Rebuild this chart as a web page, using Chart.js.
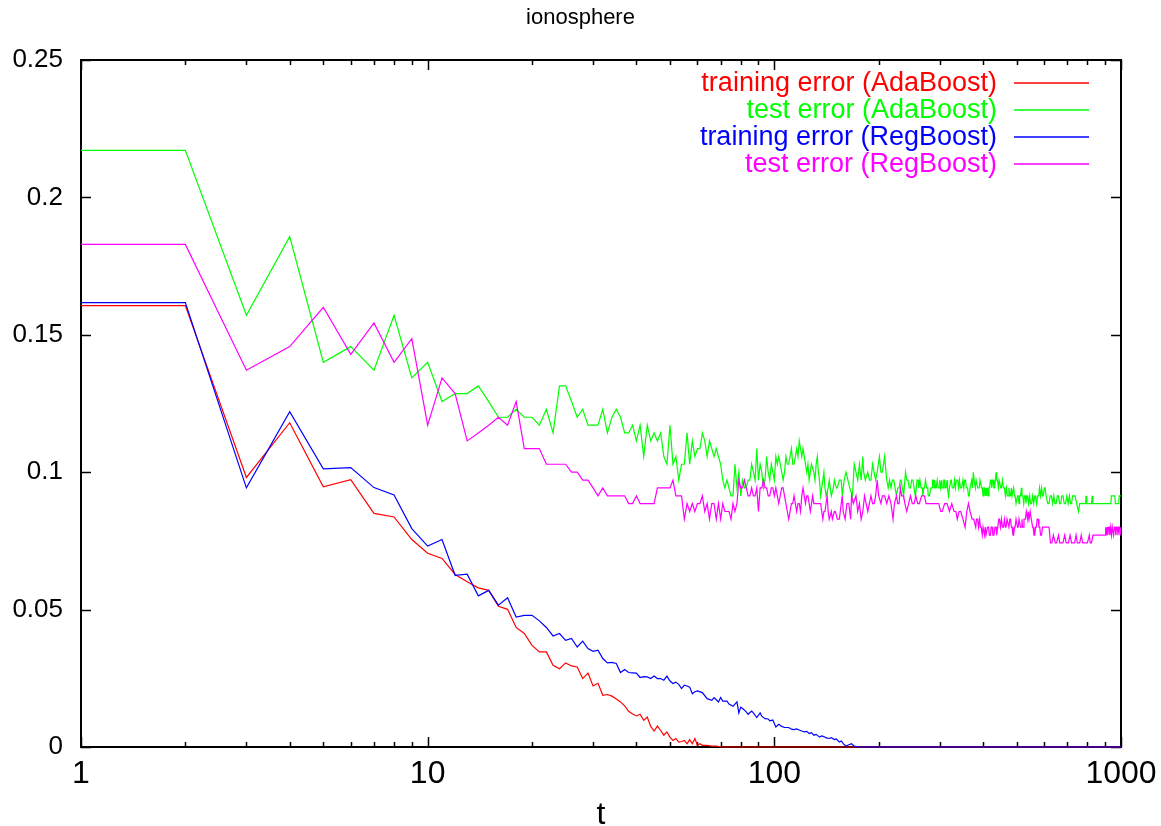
<!DOCTYPE html>
<html>
<head>
<meta charset="utf-8">
<title>ionosphere</title>
<script src="https://cdn.jsdelivr.net/npm/chart.js@4.4.1/dist/chart.umd.min.js"></script>
<style>
    html, body { margin: 0; padding: 0; background: #fff; }
    #chart { display: block; }
</style>
</head>
<body>
<canvas id="chart" width="1161" height="826"></canvas>
<script>
// boosting rounds t vs error
const trainAda = [
    [1,0.1606],[2,0.1606],[3,0.0981],[4,0.118],[5,0.0947],[6,0.0973],[7,0.085],[8,0.0837],[9,0.0755],[10,0.0705],
    [11,0.0686],[12,0.0628],[13,0.0601],[14,0.0579],[15,0.057],[16,0.0512],[17,0.0501],[18,0.0435],[19,0.0413],[20,0.037],
    [21,0.0346],[22,0.0346],[23,0.0297],[24,0.0285],[25,0.0306],[26,0.0295],[27,0.0291],[28,0.0249],[29,0.0269],[30,0.0222],
    [31,0.0232],[32,0.0188],[33,0.0191],[34,0.0185],[35,0.0175],[36,0.0164],[37,0.015],[38,0.013],[39,0.012],[40,0.0113],
    [41,0.0119],[42,0.0097],[43,0.0109],[44,0.0075],[45,0.0058],[46,0.0076],[47,0.006],[48,0.0043],[49,0.0055],[50,0.0036],
    [51,0.0024],[52,0.0031],[53,0.0018],[54,0.002],[55,0.0024],[56,0.0012],[57,0.0027],[58,0.0012],[59,0.0031],[60,0.0006],
    [61,0.0012],[62,0.0006],[64,0.0006],[66,0.0003],[68,0.0003],[71,0],[1000,0]
];

const testAda = [
    [1,0.2171],[2,0.2171],[3,0.1571],[4,0.1857],[5,0.14],[6,0.1457],[7,0.1371],[8,0.1571],[9,0.1343],[10,0.14],
    [11,0.1257],[12,0.1286],[13,0.1286],[14,0.1314],[15,0.1257],[16,0.12],[17,0.12],[18,0.1229],[19,0.12],[20,0.12],
    [21,0.1171],[22,0.1229],[23,0.1143],[24,0.1314],[25,0.1314],[26,0.1257],[27,0.12],[28,0.1229],[29,0.1171],[30,0.1171],
    [31,0.1171],[32,0.1229],[33,0.1143],[34,0.12],[35,0.1229],[36,0.12],[37,0.1143],[38,0.1143],[39,0.1171],[40,0.1114],
    [41,0.1171],[42,0.1057],[43,0.1171],[44,0.1114],[45,0.1143],[46,0.1114],[47,0.1143],[48,0.1057],[49,0.1029],[50,0.1171],
    [51,0.1029],[52,0.1057],[53,0.0971],[54,0.1029],[55,0.1029],[56,0.1143],[57,0.1029],[58,0.1114],[59,0.1057],[60,0.1086],
    [61,0.1086],[62,0.1143],[63,0.1114],[64,0.1057],[65,0.1114],[66,0.1086],[67,0.1057],[68,0.1086],[69,0.1057],[70,0.1029],
    [71,0.0971],[72,0.0943],[73,0.0971],[74,0.0943],[75,0.0914],[76,0.0914],[77,0.1029],[78,0.0943],[79,0.1],[80,0.0914],
    [81,0.0971],[82,0.0943],[83,0.0943],[84,0.0971],[85,0.0971],[86,0.1029],[87,0.1],[88,0.0971],[89,0.1086],[90,0.0971],
    [91,0.1029],[92,0.1],[93,0.0943],[94,0.0971],[95,0.1057],[96,0.1],[97,0.0971],[98,0.1029],[99,0.1],[100,0.0971],
    [101,0.1057],[102,0.1029],[103,0.1057],[104,0.1029],[105,0.1],[106,0.0971],[107,0.1],[108,0.1057],[109,0.1029],[110,0.1029],
    [111,0.1057],[112,0.1086],[113,0.1029],[114,0.1029],[115,0.1057],[116,0.1086],[117,0.1057],[118,0.1114],[119,0.1086],[120,0.1057],
    [121,0.1086],[122,0.1057],[123,0.1029],[124,0.1],[125,0.1029],[126,0.0971],[127,0.1],[128,0.1029],[130,0.1],[131,0.0971],
    [132,0.1029],[133,0.1057],[134,0.1],[135,0.0971],[136,0.0914],[138,0.0971],[139,0.1],[140,0.0943],[141,0.0914],[143,0.0943],
    [144,0.0971],[146,0.0914],[148,0.0943],[149,0.0971],[151,0.0943],[152,0.0943],[154,0.0971],[156,0.0971],[157,0.0914],[159,0.0971],
    [161,0.1],[163,0.0971],[165,0.0943],[168,0.0914],[170,0.1029],[172,0.1],[174,0.0971],[176,0.1029],[178,0.0971],[180,0.1057],
    [181,0.1],[183,0.0971],[186,0.1],[188,0.0971],[190,0.0971],[192,0.1029],[194,0.1],[196,0.0971],[198,0.1],[201,0.1057],
    [203,0.1],[205,0.1],[208,0.1057],[211,0.0971],[213,0.0943],[215,0.0971],[217,0.0943],[219,0.0971],[221,0.0971],[223,0.0943],
    [225,0.0914],[227,0.0943],[229,0.0943],[231,0.0971],[232,0.0971],[234,0.0943],[236,0.0914],[237,0.0943],[239,0.1],[241,0.0971],
    [243,0.0971],[245,0.0943],[247,0.0943],[249,0.0971],[251,0.0971],[253,0.0943],[255,0.0914],[257,0.0943],[258,0.0971],[260,0.0971],
    [261,0.0943],[263,0.0971],[265,0.0943],[267,0.0943],[268,0.0914],[270,0.0943],[271,0.0943],[273,0.0971],[275,0.0943],[277,0.0943],
    [278,0.0914],[280,0.0914],[283,0.0943],[285,0.0943],[286,0.0971],[288,0.0971],[289,0.0943],[290,0.0971],[292,0.0943],[293,0.0943],
    [295,0.0971],[297,0.0943],[299,0.0943],[300,0.0971],[302,0.0943],[304,0.0971],[305,0.0943],[307,0.0943],[308,0.0971],[310,0.0971],
    [311,0.0943],[313,0.0943],[315,0.0971],[316,0.0943],[318,0.0914],[320,0.0943],[321,0.0943],[323,0.0971],[324,0.0971],[326,0.0943],
    [329,0.0943],[331,0.0971],[333,0.0943],[335,0.0971],[338,0.0971],[340,0.0943],[342,0.0971],[344,0.0943],[347,0.0943],[350,0.0971],
    [352,0.0943],[354,0.0971],[356,0.0971],[358,0.0943],[361,0.0943],[363,0.0914],[365,0.0914],[367,0.0943],[369,0.0943],[371,0.0971],
    [373,0.0943],[375,0.1],[377,0.0971],[380,0.0943],[382,0.0971],[384,0.0971],[386,0.0943],[390,0.0943],[392,0.0971],[394,0.0971],
    [396,0.0943],[398,0.0943],[400,0.0914],[402,0.0943],[404,0.0943],[406,0.0914],[408,0.0943],[410,0.0914],[412,0.0943],[414,0.0914],
    [416,0.0943],[418,0.0943],[420,0.0971],[422,0.0971],[424,0.0943],[426,0.0971],[428,0.0971],[430,0.0943],[432,0.0943],[434,0.0971],
    [436,0.1],[438,0.0971],[440,0.0971],[443,0.0943],[445,0.0971],[447,0.0971],[450,0.0943],[452,0.0943],[455,0.0971],[458,0.0943],
    [461,0.0943],[464,0.0914],[467,0.0943],[470,0.0914],[473,0.0914],[475,0.0943],[478,0.0914],[480,0.0914],[483,0.0943],[485,0.0914],
    [488,0.0914],[490,0.0943],[493,0.0914],[495,0.0914],[498,0.0886],[500,0.0886],[503,0.0914],[505,0.0914],[508,0.0886],[510,0.0914],
    [513,0.0914],[516,0.0943],[518,0.0914],[521,0.0914],[524,0.0886],[527,0.0914],[530,0.0914],[532,0.0886],[535,0.0914],[538,0.0914],
    [541,0.0886],[545,0.0914],[548,0.0886],[552,0.0886],[556,0.0914],[560,0.0886],[564,0.0914],[567,0.0914],[571,0.0886],[575,0.0914],
    [579,0.0914],[582,0.0943],[586,0.0914],[590,0.0943],[594,0.0914],[597,0.0914],[601,0.0943],[604,0.0943],[608,0.0914],[611,0.0914],
    [615,0.0886],[620,0.0886],[625,0.0914],[630,0.0914],[635,0.0886],[640,0.0914],[645,0.0886],[650,0.0886],[655,0.0914],[660,0.0914],
    [665,0.0886],[670,0.0886],[675,0.0914],[680,0.0914],[686,0.0886],[692,0.0886],[698,0.0914],[704,0.0886],[710,0.0914],[715,0.0886],
    [720,0.0886],[725,0.0914],[730,0.0914],[737,0.0914],[745,0.0886],[754,0.0857],[760,0.0886],[790,0.0886],[793,0.0914],[797,0.0886],
    [822,0.0886],[826,0.0914],[830,0.0886],[935,0.0886],[938,0.0914],[960,0.0914],[964,0.0886],[985,0.0886],[988,0.0914],[1000,0.0914]
];

const trainReg = [
    [1,0.1617],[2,0.1617],[3,0.0943],[4,0.122],[5,0.1012],[6,0.1017],[7,0.0944],[8,0.0917],[9,0.0795],[10,0.0731],
    [11,0.0755],[12,0.0625],[13,0.0629],[14,0.055],[15,0.057],[16,0.0516],[17,0.0543],[18,0.0473],[19,0.0479],[20,0.0479],
    [21,0.0459],[22,0.0435],[23,0.0404],[24,0.0413],[25,0.0388],[26,0.0395],[27,0.0364],[28,0.0385],[29,0.0358],[30,0.0348],
    [31,0.0352],[32,0.0322],[33,0.0306],[34,0.0308],[35,0.0304],[36,0.0271],[37,0.0282],[38,0.0271],[39,0.027],[40,0.0269],
    [41,0.0253],[42,0.0256],[43,0.0255],[44,0.0249],[45,0.0258],[46,0.0249],[47,0.0249],[48,0.0243],[49,0.0258],[50,0.024],
    [51,0.0231],[52,0.0236],[53,0.0228],[54,0.0213],[55,0.0225],[56,0.0222],[57,0.0218],[58,0.0194],[59,0.0201],[60,0.0204],
    [62,0.0198],[64,0.0176],[66,0.017],[67,0.018],[68,0.0172],[69,0.0164],[70,0.018],[71,0.0167],[73,0.0167],[74,0.0156],
    [76,0.0148],[78,0.0164],[79,0.0124],[80,0.0145],[81,0.014],[83,0.0128],[84,0.0119],[86,0.0131],[87,0.0124],[89,0.0107],
    [91,0.0124],[92,0.0112],[94,0.0103],[96,0.0102],[97,0.0095],[99,0.0098],[101,0.0073],[103,0.0083],[105,0.0075],[107,0.0071],
    [110,0.0071],[112,0.0065],[114,0.0063],[116,0.0066],[118,0.0062],[120,0.0058],[122,0.0055],[124,0.0057],[126,0.0049],[128,0.0052],
    [130,0.0043],[132,0.0046],[135,0.0036],[137,0.004],[139,0.0038],[141,0.0033],[144,0.0031],[146,0.0034],[149,0.0027],[151,0.0029],
    [154,0.0018],[156,0.0022],[158,0.0012],[161,0.0003],[164,0.0008],[167,0.0012],[170,0.0003],[176,0],[1000,0]
];

const testReg = [
    [1,0.1829],[2,0.1829],[3,0.1371],[4,0.1457],[5,0.16],[6,0.1429],[7,0.1543],[8,0.14],[9,0.1486],[10,0.1171],
    [11,0.1343],[12,0.1286],[13,0.1114],[14,0.1143],[15,0.1171],[16,0.12],[17,0.1171],[18,0.1257],[19,0.1086],[20,0.1086],
    [21,0.1086],[22,0.1029],[23,0.1029],[24,0.1029],[25,0.1029],[26,0.1],[27,0.1],[28,0.0971],[29,0.0971],[30,0.0943],
    [31,0.0914],[32,0.0943],[33,0.0914],[34,0.0914],[35,0.0914],[36,0.0914],[37,0.0914],[38,0.0886],[39,0.0886],[40,0.0914],
    [41,0.0886],[42,0.0886],[43,0.0886],[44,0.0886],[45,0.0886],[46,0.0943],[47,0.0943],[48,0.0943],[49,0.0943],[50,0.0943],
    [51,0.0971],[52,0.0914],[53,0.0914],[54,0.0914],[55,0.0829],[56,0.0886],[57,0.0857],[58,0.0886],[59,0.0857],[60,0.0886],
    [61,0.0886],[62,0.0914],[63,0.0857],[64,0.0886],[65,0.0829],[66,0.0886],[67,0.0886],[68,0.0829],[69,0.0886],[70,0.0829],
    [71,0.0886],[72,0.0857],[73,0.0857],[74,0.0857],[75,0.0829],[76,0.0886],[77,0.0857],[78,0.0886],[79,0.0971],[80,0.0943],
    [81,0.0943],[82,0.0971],[83,0.0943],[84,0.0914],[85,0.0914],[86,0.0943],[87,0.0914],[88,0.0914],[89,0.0943],[90,0.0857],
    [91,0.0943],[92,0.0943],[93,0.0971],[94,0.0943],[95,0.0943],[96,0.0914],[97,0.0914],[98,0.0943],[99,0.0943],[100,0.0914],
    [101,0.0943],[102,0.0914],[103,0.0886],[104,0.0914],[105,0.0943],[106,0.0943],[107,0.0914],[108,0.0886],[109,0.0857],[110,0.0829],
    [111,0.0857],[112,0.0886],[113,0.0886],[114,0.0914],[115,0.0886],[116,0.0857],[117,0.0886],[118,0.0886],[119,0.0857],[120,0.0914],
    [121,0.0943],[122,0.0914],[123,0.0886],[124,0.0914],[125,0.0914],[126,0.0886],[127,0.0857],[128,0.0886],[129,0.0914],[130,0.0886],
    [132,0.0886],[134,0.0886],[136,0.0886],[137,0.0857],[138,0.0829],[139,0.0857],[140,0.0857],[141,0.0886],[142,0.0914],[143,0.0857],
    [144,0.0829],[146,0.0857],[147,0.0829],[149,0.0857],[150,0.0857],[152,0.0829],[154,0.0829],[156,0.0886],[157,0.0914],[158,0.0857],
    [160,0.0829],[162,0.0886],[164,0.0886],[166,0.0829],[167,0.0914],[169,0.0886],[172,0.0914],[174,0.0857],[176,0.0886],[178,0.0829],
    [180,0.0857],[182,0.0914],[184,0.0886],[186,0.0857],[188,0.0886],[190,0.0914],[192,0.0886],[194,0.0886],[196,0.0914],[198,0.0971],
    [200,0.0914],[203,0.0886],[205,0.0914],[208,0.0914],[211,0.0886],[214,0.0914],[217,0.0886],[220,0.0829],[222,0.0886],[225,0.0914],
    [227,0.0886],[229,0.0886],[231,0.0943],[233,0.0914],[236,0.0914],[238,0.0886],[241,0.0857],[244,0.0886],[247,0.0914],[250,0.0886],
    [253,0.0886],[256,0.0914],[259,0.0886],[262,0.0886],[266,0.0914],[271,0.0914],[274,0.0886],[277,0.0886],[282,0.0886],[287,0.0886],
    [292,0.0886],[298,0.0886],[302,0.0857],[305,0.0857],[310,0.0886],[315,0.0886],[320,0.0857],[325,0.0886],[330,0.0857],[334,0.0857],
    [337,0.0829],[341,0.0857],[345,0.0857],[350,0.0829],[355,0.08],[359,0.0857],[363,0.0886],[367,0.0857],[372,0.0829],[376,0.0829],
    [381,0.08],[383,0.0829],[386,0.0829],[388,0.08],[391,0.0829],[393,0.08],[395,0.08],[398,0.0771],[400,0.08],[402,0.08],
    [404,0.0771],[406,0.08],[408,0.0771],[410,0.0771],[412,0.08],[415,0.08],[417,0.0771],[420,0.0771],[422,0.08],[425,0.08],
    [427,0.0771],[430,0.0771],[433,0.08],[436,0.08],[438,0.0771],[441,0.08],[444,0.0829],[446,0.0829],[449,0.08],[452,0.0829],
    [455,0.08],[458,0.08],[461,0.0829],[464,0.08],[466,0.08],[469,0.0829],[472,0.0829],[475,0.08],[478,0.0829],[480,0.0829],
    [483,0.08],[485,0.08],[488,0.0771],[490,0.0771],[493,0.08],[495,0.08],[498,0.0829],[500,0.0829],[503,0.08],[505,0.08],
    [508,0.0829],[510,0.0829],[513,0.08],[515,0.08],[518,0.0829],[520,0.08],[523,0.08],[525,0.0829],[530,0.0829],[533,0.0857],
    [535,0.0857],[538,0.0829],[540,0.0857],[543,0.0829],[545,0.0829],[547,0.0857],[549,0.0857],[551,0.0829],[553,0.0829],[556,0.08],
    [558,0.08],[561,0.0771],[564,0.0771],[567,0.08],[570,0.08],[573,0.0829],[577,0.0829],[580,0.08],[583,0.08],[586,0.0771],
    [590,0.0771],[594,0.08],[598,0.08],[605,0.08],[612,0.08],[620,0.08],[626,0.0743],[632,0.0743],[638,0.0771],[646,0.0743],
    [652,0.0743],[660,0.0771],[666,0.0743],[680,0.0743],[688,0.0771],[695,0.0743],[705,0.0743],[713,0.0771],[720,0.0743],[735,0.0743],
    [742,0.0771],[748,0.0743],[760,0.0743],[768,0.0771],[775,0.0743],[800,0.0743],[810,0.0771],[815,0.0743],[822,0.0743],[830,0.0771],
    [900,0.0771],[903,0.08],[907,0.0771],[912,0.08],[916,0.0771],[921,0.08],[925,0.08],[929,0.0771],[934,0.08],[939,0.0771],
    [944,0.08],[948,0.08],[952,0.0771],[957,0.08],[962,0.08],[966,0.0771],[971,0.08],[976,0.08],[980,0.0771],[985,0.08],
    [990,0.08],[995,0.0771],[1000,0.08]
];

const seriesLabels = ['training error (AdaBoost)', 'test error (AdaBoost)', 'training error (RegBoost)', 'test error (RegBoost)'];
const seriesColors = ['#ff0000', '#00ff00', '#0000ff', '#ff00ff'];

const xMajorTicks = [1, 10, 100, 1000];
const xMinorTicks = [2, 3, 4, 5, 6, 7, 8, 9, 20, 30, 40, 50, 60, 70, 80, 90, 200, 300, 400, 500, 600, 700, 800, 900];
const yTicks = [0, 0.05, 0.1, 0.15, 0.2, 0.25];

const FONT = 'Liberation Sans, Arial, Helvetica, sans-serif';

function toPoints(pairs) {
    return pairs.map(p => ({ x: p[0], y: p[1] }));
}

// gnuplot style frame: box with ticks pointing inward on all four sides
const framePlugin = {
    id: 'frame',
    beforeDatasetsDraw(chart) {
        const { ctx, chartArea: a, scales } = chart;
        ctx.save();
        ctx.strokeStyle = '#000';
        ctx.lineWidth = 2;
        ctx.strokeRect(a.left, a.top, a.right - a.left, a.bottom - a.top);
        ctx.lineWidth = 1.5;
        ctx.beginPath();
        xMajorTicks.concat(xMinorTicks).forEach(v => {
            const px = Math.round(scales.x.getPixelForValue(v)) + 0.5;
            const len = xMajorTicks.includes(v) ? 10 : 5;
            ctx.moveTo(px, a.bottom); ctx.lineTo(px, a.bottom - len);
            ctx.moveTo(px, a.top); ctx.lineTo(px, a.top + len);
        });
        yTicks.forEach(v => {
            const py = Math.round(scales.y.getPixelForValue(v)) + 0.5;
            ctx.moveTo(a.left, py); ctx.lineTo(a.left + 10, py);
            ctx.moveTo(a.right, py); ctx.lineTo(a.right - 10, py);
        });
        ctx.stroke();
        ctx.restore();
    }
};

// key in the top right corner: text right aligned, line sample after it
const keyPlugin = {
    id: 'key',
    afterDraw(chart) {
        const { ctx } = chart;
        ctx.save();
        ctx.font = '27px ' + FONT;
        ctx.textAlign = 'right';
        ctx.textBaseline = 'middle';
        chart.data.datasets.forEach((ds, i) => {
            const y = 83 + i * 27;
            ctx.fillStyle = ds.borderColor;
            ctx.fillText(ds.label, 997, y + 1);
            ctx.strokeStyle = ds.borderColor;
            ctx.lineWidth = 1.5;
            ctx.beginPath();
            ctx.moveTo(1014, y);
            ctx.lineTo(1089, y);
            ctx.stroke();
        });
        ctx.restore();
    }
};

const allSeries = [trainAda, testAda, trainReg, testReg];

const datasets = allSeries.map((pairs, i) => ({
    label: seriesLabels[i],
    data: toPoints(pairs),
    borderColor: seriesColors[i],
    backgroundColor: seriesColors[i],
    borderWidth: 1.2,
    pointRadius: 0,
    tension: 0,
    fill: false,
    clip: 4,
    order: 4 - i
}));

new Chart(document.getElementById('chart').getContext('2d'), {
    type: 'line',
    data: { datasets: datasets },
    options: {
        responsive: false,
        animation: false,
        events: [],
        layout: { padding: 0 },
        plugins: {
            legend: { display: false },
            tooltip: { enabled: false },
            title: {
                display: true,
                text: 'ionosphere',
                color: '#000',
                font: { family: FONT, size: 22, weight: 'normal', lineHeight: 1.2 },
                padding: { top: 5, bottom: 28.6 }
            }
        },
        scales: {
            x: {
                type: 'logarithmic',
                position: 'bottom',
                min: 1,
                max: 1000,
                grid: { display: false, drawTicks: false },
                border: { display: false },
                afterBuildTicks: scale => {
                    scale.ticks = xMajorTicks.concat(xMinorTicks).sort((a, b) => a - b)
                        .map(v => ({ value: v, major: xMajorTicks.includes(v) }));
                },
                afterFit: scale => {
                    scale.height = 79;
                    // labels may hang past the plot edges, as in the original
                    scale.paddingLeft = 0;
                    scale.paddingRight = 0;
                },
                ticks: {
                    autoSkip: false,
                    maxRotation: 0,
                    padding: 8,
                    color: '#000',
                    font: { family: FONT, size: 32 },
                    callback: v => xMajorTicks.includes(v) ? String(v) : ''
                },
                title: {
                    display: true,
                    text: 't',
                    color: '#000',
                    font: { family: FONT, size: 32, lineHeight: 1 },
                    padding: { top: 0, bottom: -5 }
                }
            },
            y: {
                min: 0,
                max: 0.25,
                grid: { display: false, drawTicks: false },
                border: { display: false },
                afterBuildTicks: scale => {
                    scale.ticks = yTicks.map(v => ({ value: v }));
                },
                afterFit: scale => { scale.width = 81; },
                ticks: {
                    padding: 18,
                    color: '#000',
                    font: { family: FONT, size: 26 },
                    callback: v => String(+v.toFixed(2))
                }
            },
            yRight: {
                position: 'right',
                min: 0,
                max: 0.25,
                grid: { display: false, drawTicks: false },
                border: { display: false },
                ticks: { display: false },
                afterFit: scale => { scale.width = 40; }
            }
        }
    },
    plugins: [framePlugin, keyPlugin]
});
</script>
</body>
</html>
